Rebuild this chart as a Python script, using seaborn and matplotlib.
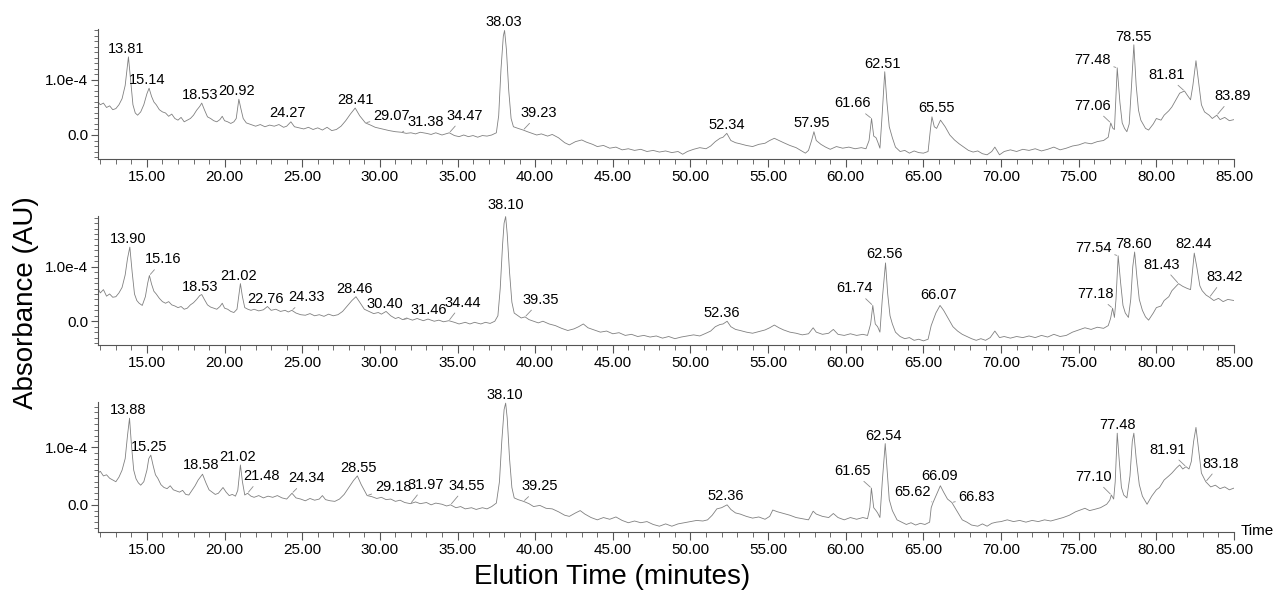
import numpy as np
import matplotlib
matplotlib.use("Agg")
import matplotlib.pyplot as plt
from matplotlib.ticker import MultipleLocator, FuncFormatter
import seaborn as sns

sns.set_style("ticks")
plt.rcParams["font.family"] = ["Liberation Sans", "DejaVu Sans"]
plt.rcParams["text.color"] = "black"

# ---- chromatogram traces: retention time (min) and absorbance (x1e-4 AU) ----
time_a = [11.85, 12.0, 12.2, 12.4, 12.6, 12.8, 13.0, 13.2, 13.4, 13.6, 13.81, 13.95, 14.1, 14.25, 14.4, 14.6, 14.8, 15.0,
          15.14, 15.3, 15.45, 15.6, 15.8, 16.0, 16.2, 16.4, 16.6, 16.8, 17.0, 17.2, 17.4, 17.6, 17.8, 18.0, 18.2, 18.4,
          18.53, 18.7, 18.9, 19.1, 19.3, 19.5, 19.7, 19.85, 20.0, 20.2, 20.4, 20.6, 20.75, 20.92, 21.05, 21.2, 21.4, 21.6,
          21.8, 22.0, 22.3, 22.6, 22.9, 23.2, 23.5, 23.8, 24.0, 24.27, 24.5, 24.8, 25.1, 25.4, 25.7, 26.0, 26.3, 26.6,
          26.9, 27.2, 27.5, 27.8, 28.1, 28.41, 28.7, 29.07, 29.4, 29.7, 30.0, 30.3, 30.6, 31.0, 31.38, 31.7, 32.0, 32.3,
          32.6, 33.0, 33.3, 33.6, 34.0, 34.47, 34.8, 35.1, 35.4, 35.7, 36.0, 36.3, 36.6, 36.9, 37.2, 37.5, 37.65, 37.8,
          37.95, 38.03, 38.15, 38.3, 38.45, 38.6, 38.9, 39.23, 39.5, 39.8, 40.1, 40.4, 40.8, 41.1, 41.5, 41.9, 42.2, 42.6,
          43.0, 43.3, 43.7, 44.0, 44.4, 44.8, 45.2, 45.6, 46.0, 46.4, 46.8, 47.2, 47.6, 48.0, 48.4, 48.8, 49.2, 49.5,
          49.8, 50.2, 50.6, 51.0, 51.3, 51.6, 51.9, 52.1, 52.34, 52.6, 52.9, 53.2, 53.6, 54.0, 54.4, 54.8, 55.1, 55.4,
          55.7, 56.0, 56.4, 56.8, 57.1, 57.4, 57.6, 57.8, 57.95, 58.1, 58.4, 58.7, 59.0, 59.4, 59.8, 60.2, 60.6, 61.0,
          61.3, 61.5, 61.66, 61.8, 61.95, 62.05, 62.2, 62.35, 62.51, 62.65, 62.8, 63.0, 63.2, 63.5, 63.8, 64.1, 64.4,
          64.7, 65.0, 65.3, 65.45, 65.55, 65.7, 65.85, 66.1, 66.4, 66.7, 67.0, 67.3, 67.6, 67.9, 68.2, 68.5, 68.8, 69.1,
          69.4, 69.6, 69.9, 70.2, 70.6, 71.0, 71.4, 71.8, 72.2, 72.6, 73.0, 73.4, 73.8, 74.2, 74.6, 75.0, 75.4, 75.8,
          76.2, 76.6, 76.9, 77.06, 77.2, 77.3, 77.48, 77.65, 77.8, 77.95, 78.1, 78.25, 78.4, 78.55, 78.7, 78.85, 79.0,
          79.3, 79.5, 79.8, 80.0, 80.3, 80.5, 80.8, 81.0, 81.3, 81.5, 81.81, 82.0, 82.2, 82.35, 82.55, 82.7, 82.9, 83.1,
          83.4, 83.6, 83.89, 84.1, 84.4, 84.7, 85.0]
absorb_a = [0.60, 0.55, 0.58, 0.50, 0.53, 0.46, 0.48, 0.55, 0.66, 0.90, 1.42, 1.00, 0.55, 0.40, 0.36, 0.42, 0.55, 0.75,
            0.85, 0.70, 0.60, 0.55, 0.46, 0.42, 0.40, 0.34, 0.38, 0.30, 0.27, 0.32, 0.24, 0.27, 0.30, 0.36, 0.45, 0.52,
            0.58, 0.46, 0.33, 0.30, 0.26, 0.24, 0.28, 0.34, 0.26, 0.24, 0.21, 0.24, 0.30, 0.65, 0.48, 0.30, 0.22, 0.20,
            0.18, 0.16, 0.19, 0.15, 0.18, 0.16, 0.19, 0.14, 0.16, 0.24, 0.15, 0.13, 0.11, 0.14, 0.10, 0.13, 0.09, 0.14,
            0.08, 0.10, 0.16, 0.26, 0.38, 0.49, 0.35, 0.22, 0.18, 0.14, 0.12, 0.10, 0.08, 0.06, 0.05, 0.03, 0.04, 0.02,
            0.05, 0.03, 0.01, 0.04, 0.00, 0.04, -0.01, -0.03, 0.00, -0.03, -0.01, -0.04, -0.01, -0.02, 0.00, 0.04, 0.35, 1.20,
            1.80, 1.90, 1.55, 0.80, 0.30, 0.15, 0.12, 0.09, 0.06, 0.03, 0.00, 0.02, -0.02, 0.01, -0.05, -0.14, -0.18, -0.12,
            -0.09, -0.13, -0.17, -0.21, -0.19, -0.24, -0.22, -0.27, -0.25, -0.28, -0.26, -0.30, -0.28, -0.31, -0.29, -0.32, -0.30, -0.35,
            -0.30, -0.26, -0.23, -0.25, -0.20, -0.12, -0.06, -0.04, 0.03, -0.10, -0.14, -0.16, -0.19, -0.21, -0.17, -0.15, -0.10, -0.06,
            -0.10, -0.14, -0.19, -0.23, -0.28, -0.33, -0.28, -0.10, 0.06, -0.10, -0.17, -0.22, -0.26, -0.21, -0.24, -0.22, -0.25, -0.23,
            -0.25, -0.10, 0.30, -0.02, -0.05, -0.12, -0.24, 0.40, 1.15, 0.60, 0.15, -0.05, -0.22, -0.30, -0.28, -0.33, -0.29,
            -0.32, -0.33, -0.30, 0.10, 0.33, 0.15, 0.12, 0.27, 0.15, 0.00, -0.09, -0.16, -0.22, -0.28, -0.31, -0.29, -0.34, -0.36,
            -0.30, -0.22, -0.36, -0.30, -0.27, -0.30, -0.26, -0.28, -0.25, -0.29, -0.26, -0.22, -0.27, -0.24, -0.20, -0.18, -0.14, -0.16,
            -0.12, -0.10, -0.04, 0.22, 0.12, 0.10, 1.22, 0.60, 0.22, 0.12, 0.06, 0.20, 0.90, 1.64, 0.90, 0.45, 0.27,
            0.12, 0.09, 0.20, 0.30, 0.27, 0.36, 0.44, 0.51, 0.66, 0.76, 0.80, 0.72, 0.64, 0.90, 1.35, 1.00, 0.55, 0.42,
            0.36, 0.30, 0.36, 0.28, 0.32, 0.26, 0.28]

time_b = [11.85, 12.0, 12.2, 12.4, 12.6, 12.8, 13.0, 13.2, 13.4, 13.6, 13.75, 13.90, 14.05, 14.2, 14.35, 14.5, 14.7, 14.9,
          15.05, 15.16, 15.3, 15.45, 15.6, 15.8, 16.0, 16.2, 16.4, 16.6, 16.8, 17.0, 17.2, 17.4, 17.6, 17.8, 18.0, 18.2,
          18.4, 18.53, 18.7, 18.9, 19.1, 19.3, 19.5, 19.7, 19.85, 20.0, 20.2, 20.4, 20.6, 20.8, 21.02, 21.15, 21.3, 21.5,
          21.7, 21.9, 22.2, 22.5, 22.76, 23.0, 23.3, 23.6, 23.9, 24.1, 24.33, 24.6, 24.9, 25.2, 25.5, 25.8, 26.1, 26.4,
          26.7, 27.0, 27.3, 27.6, 27.9, 28.2, 28.46, 28.7, 29.0, 29.3, 29.6, 29.9, 30.1, 30.40, 30.7, 31.0, 31.2, 31.46,
          31.8, 32.1, 32.4, 32.8, 33.1, 33.5, 33.8, 34.1, 34.44, 34.8, 35.1, 35.5, 35.8, 36.1, 36.5, 36.8, 37.1, 37.4,
          37.6, 37.75, 37.9, 38.0, 38.10, 38.2, 38.35, 38.5, 38.65, 38.9, 39.1, 39.35, 39.6, 39.9, 40.2, 40.5, 40.9, 41.3,
          41.7, 42.1, 42.5, 42.8, 43.1, 43.4, 43.8, 44.2, 44.6, 45.0, 45.4, 45.8, 46.2, 46.6, 47.0, 47.4, 47.8, 48.2,
          48.6, 49.0, 49.4, 49.8, 50.2, 50.6, 51.0, 51.3, 51.6, 51.9, 52.1, 52.36, 52.6, 52.9, 53.2, 53.6, 54.0, 54.4,
          54.8, 55.1, 55.4, 55.7, 56.0, 56.4, 56.8, 57.2, 57.6, 57.9, 58.1, 58.5, 58.9, 59.2, 59.5, 59.9, 60.3, 60.7,
          61.1, 61.4, 61.6, 61.74, 61.9, 62.05, 62.2, 62.35, 62.56, 62.7, 62.85, 63.0, 63.2, 63.5, 63.8, 64.1, 64.4,
          64.7, 65.0, 65.3, 65.5, 65.8, 66.07, 66.3, 66.6, 66.9, 67.2, 67.5, 67.8, 68.1, 68.4, 68.7, 69.0, 69.3, 69.6,
          69.9, 70.2, 70.6, 71.0, 71.4, 71.8, 72.2, 72.6, 73.0, 73.4, 73.8, 74.2, 74.6, 75.0, 75.4, 75.8, 76.2, 76.6,
          76.9, 77.05, 77.18, 77.3, 77.4, 77.54, 77.7, 77.85, 78.0, 78.2, 78.35, 78.48, 78.60, 78.75, 78.9, 79.1, 79.3,
          79.5, 79.8, 80.0, 80.3, 80.5, 80.8, 81.0, 81.2, 81.43, 81.7, 82.0, 82.2, 82.32, 82.44, 82.6, 82.8, 82.95, 83.2,
          83.42, 83.7, 84.0, 84.3, 84.6, 85.0]
absorb_b = [0.60, 0.52, 0.58, 0.46, 0.50, 0.44, 0.45, 0.52, 0.62, 0.85, 1.15, 1.36, 0.90, 0.50, 0.38, 0.33, 0.29, 0.45,
            0.70, 0.84, 0.68, 0.55, 0.50, 0.42, 0.36, 0.33, 0.36, 0.30, 0.28, 0.25, 0.27, 0.22, 0.24, 0.30, 0.34, 0.40,
            0.47, 0.49, 0.40, 0.30, 0.26, 0.24, 0.22, 0.27, 0.33, 0.24, 0.22, 0.18, 0.16, 0.22, 0.69, 0.45, 0.25, 0.22,
            0.20, 0.22, 0.19, 0.21, 0.27, 0.20, 0.22, 0.18, 0.20, 0.17, 0.20, 0.15, 0.12, 0.11, 0.14, 0.10, 0.12, 0.09,
            0.13, 0.10, 0.12, 0.18, 0.28, 0.38, 0.45, 0.35, 0.22, 0.18, 0.14, 0.16, 0.13, 0.18, 0.10, 0.05, 0.07, 0.03,
            0.05, 0.02, 0.05, 0.01, 0.04, 0.00, 0.02, -0.01, 0.01, -0.02, -0.05, -0.02, -0.05, -0.02, -0.05, -0.02, -0.04, 0.00,
            0.10, 0.60, 1.40, 1.80, 1.92, 1.60, 0.90, 0.35, 0.15, 0.10, 0.06, 0.08, 0.03, 0.00, -0.03, 0.00, -0.05, -0.08,
            -0.13, -0.17, -0.14, -0.10, -0.05, -0.12, -0.16, -0.20, -0.18, -0.23, -0.21, -0.26, -0.24, -0.28, -0.26, -0.29, -0.27, -0.31,
            -0.28, -0.32, -0.29, -0.27, -0.25, -0.27, -0.22, -0.18, -0.10, -0.06, -0.05, 0.00, -0.10, -0.15, -0.17, -0.20, -0.22, -0.19,
            -0.16, -0.12, -0.07, -0.12, -0.16, -0.20, -0.22, -0.25, -0.23, -0.12, -0.20, -0.24, -0.22, -0.15, -0.24, -0.26, -0.23, -0.26,
            -0.24, -0.26, -0.05, 0.29, -0.05, -0.10, -0.20, 0.40, 1.07, 0.50, 0.10, -0.05, -0.20, -0.28, -0.32, -0.30, -0.35,
            -0.33, -0.36, -0.33, -0.08, 0.15, 0.29, 0.20, 0.05, -0.10, -0.18, -0.24, -0.28, -0.32, -0.35, -0.32, -0.35, -0.30, -0.18,
            -0.30, -0.28, -0.31, -0.28, -0.30, -0.27, -0.30, -0.26, -0.29, -0.24, -0.28, -0.26, -0.20, -0.16, -0.12, -0.15, -0.11, -0.13,
            -0.08, 0.05, 0.24, 0.07, 0.40, 1.20, 0.70, 0.29, 0.15, 0.07, 0.40, 1.00, 1.27, 0.80, 0.40, 0.20, 0.08,
            0.02, 0.15, 0.25, 0.28, 0.38, 0.45, 0.56, 0.62, 0.69, 0.64, 0.60, 0.58, 0.90, 1.25, 1.00, 0.65, 0.56, 0.48,
            0.44, 0.38, 0.42, 0.36, 0.40, 0.38]

time_c = [11.85, 12.0, 12.2, 12.4, 12.6, 12.8, 13.0, 13.2, 13.4, 13.6, 13.75, 13.88, 14.0, 14.15, 14.3, 14.45, 14.6, 14.8,
          15.0, 15.12, 15.25, 15.4, 15.55, 15.7, 15.9, 16.1, 16.3, 16.5, 16.7, 16.9, 17.1, 17.3, 17.5, 17.7, 17.9, 18.1,
          18.3, 18.58, 18.8, 19.0, 19.2, 19.4, 19.6, 19.9, 20.1, 20.3, 20.5, 20.7, 20.85, 21.02, 21.15, 21.3, 21.48, 21.7,
          21.9, 22.2, 22.5, 22.8, 23.1, 23.4, 23.7, 24.0, 24.34, 24.6, 24.9, 25.2, 25.5, 25.8, 26.1, 26.3, 26.5, 26.8,
          27.1, 27.4, 27.7, 28.0, 28.3, 28.55, 28.8, 29.18, 29.5, 29.8, 30.1, 30.4, 30.7, 31.0, 31.3, 31.6, 31.97, 32.3,
          32.6, 33.0, 33.3, 33.6, 34.0, 34.3, 34.55, 34.9, 35.2, 35.5, 35.9, 36.2, 36.6, 36.9, 37.2, 37.5, 37.7, 37.85,
          38.0, 38.10, 38.2, 38.35, 38.5, 38.65, 38.9, 39.25, 39.6, 39.9, 40.3, 40.7, 41.1, 41.5, 41.9, 42.2, 42.6, 42.9,
          43.2, 43.6, 44.0, 44.4, 44.8, 45.2, 45.6, 46.0, 46.4, 46.8, 47.2, 47.6, 48.0, 48.4, 48.8, 49.2, 49.6, 50.0,
          50.4, 50.8, 51.1, 51.4, 51.7, 52.0, 52.36, 52.6, 52.9, 53.2, 53.6, 54.0, 54.4, 54.8, 55.1, 55.3, 55.6, 56.0,
          56.4, 56.8, 57.2, 57.6, 57.9, 58.1, 58.5, 58.9, 59.2, 59.5, 59.9, 60.3, 60.7, 61.1, 61.4, 61.55, 61.65, 61.8,
          61.95, 62.05, 62.2, 62.35, 62.54, 62.7, 62.8, 63.0, 63.3, 63.6, 63.9, 64.2, 64.5, 64.8, 65.1, 65.4, 65.5, 65.62,
          65.8, 66.09, 66.3, 66.55, 66.83, 67.1, 67.5, 67.8, 68.1, 68.5, 68.8, 69.1, 69.4, 69.7, 70.0, 70.4, 70.8, 71.2,
          71.6, 72.0, 72.4, 72.8, 73.2, 73.6, 74.0, 74.4, 74.8, 75.1, 75.4, 75.7, 76.0, 76.4, 76.8, 77.0, 77.10, 77.25,
          77.35, 77.48, 77.6, 77.75, 77.9, 78.1, 78.3, 78.45, 78.55, 78.7, 78.9, 79.1, 79.4, 79.7, 80.0, 80.2, 80.5, 80.8,
          81.0, 81.3, 81.5, 81.7, 81.91, 82.1, 82.25, 82.4, 82.55, 82.7, 82.9, 83.18, 83.5, 83.8, 84.1, 84.4, 84.7, 85.0]
absorb_c = [0.55, 0.58, 0.50, 0.52, 0.46, 0.43, 0.40, 0.48, 0.60, 0.80, 1.20, 1.50, 1.05, 0.60, 0.45, 0.38, 0.34, 0.40,
            0.60, 0.80, 0.86, 0.68, 0.52, 0.46, 0.35, 0.30, 0.28, 0.33, 0.26, 0.24, 0.22, 0.25, 0.18, 0.17, 0.25, 0.33,
            0.43, 0.53, 0.38, 0.26, 0.22, 0.18, 0.20, 0.30, 0.22, 0.16, 0.18, 0.15, 0.25, 0.69, 0.40, 0.17, 0.20, 0.15,
            0.13, 0.16, 0.12, 0.15, 0.13, 0.16, 0.12, 0.10, 0.20, 0.12, 0.10, 0.07, 0.11, 0.08, 0.10, 0.16, 0.09, 0.07,
            0.06, 0.10, 0.18, 0.30, 0.42, 0.50, 0.35, 0.16, 0.14, 0.11, 0.13, 0.09, 0.10, 0.06, 0.08, 0.04, 0.02, 0.05,
            0.02, 0.04, 0.00, 0.03, 0.01, -0.02, 0.00, -0.05, -0.03, -0.07, -0.05, -0.08, -0.05, -0.07, -0.03, 0.03, 0.40, 1.10,
            1.65, 1.76, 1.50, 0.80, 0.30, 0.12, 0.09, 0.06, 0.02, -0.03, -0.01, -0.06, -0.07, -0.12, -0.18, -0.20, -0.14, -0.10,
            -0.16, -0.22, -0.26, -0.22, -0.25, -0.21, -0.27, -0.31, -0.28, -0.31, -0.29, -0.34, -0.37, -0.33, -0.37, -0.33, -0.31, -0.29,
            -0.27, -0.28, -0.26, -0.18, -0.07, -0.05, 0.00, -0.08, -0.14, -0.16, -0.20, -0.23, -0.21, -0.25, -0.20, -0.09, -0.12, -0.15,
            -0.18, -0.22, -0.24, -0.26, -0.11, -0.16, -0.20, -0.22, -0.15, -0.22, -0.26, -0.22, -0.25, -0.22, -0.24, -0.05, 0.29, -0.05,
            -0.10, -0.14, -0.22, 0.40, 1.06, 0.45, 0.09, -0.10, -0.26, -0.30, -0.34, -0.31, -0.35, -0.32, -0.34, -0.30, -0.05, 0.04,
            0.15, 0.33, 0.22, 0.10, 0.04, -0.08, -0.26, -0.30, -0.35, -0.37, -0.33, -0.37, -0.32, -0.30, -0.29, -0.26, -0.29, -0.27,
            -0.30, -0.27, -0.29, -0.26, -0.28, -0.25, -0.22, -0.18, -0.12, -0.09, -0.06, -0.10, -0.08, -0.05, 0.01, 0.08, 0.17, 0.10,
            0.40, 1.24, 0.80, 0.30, 0.17, 0.12, 0.50, 1.10, 1.24, 0.80, 0.35, 0.15, 0.01, 0.15, 0.26, 0.30, 0.43, 0.50,
            0.55, 0.64, 0.69, 0.62, 0.66, 0.62, 0.75, 1.10, 1.34, 1.00, 0.55, 0.40, 0.31, 0.34, 0.28, 0.31, 0.26, 0.29]

# ---- labelled retention times for each run ----
peaks_a = [13.81, 15.14, 18.53, 20.92, 24.27, 28.41, 29.07, 31.38, 34.47, 38.03, 39.23, 52.34, 57.95,
           61.66, 62.51, 65.55, 77.06, 77.48, 78.55, 81.81, 83.89]
peaks_b = [13.90, 15.16, 18.53, 21.02, 22.76, 24.33, 28.46, 30.40, 31.46, 34.44, 38.10, 39.35, 52.36,
           61.74, 62.56, 66.07, 77.18, 77.54, 78.60, 81.43, 82.44, 83.42]
peaks_c = [13.88, 15.25, 18.58, 21.02, 21.48, 24.34, 28.55, 29.18, 31.97, 34.55, 38.10, 39.25, 52.36,
           61.65, 62.54, 65.62, 66.09, 66.83, 77.10, 77.48, 81.91, 83.18]

# label centre offsets from the apex in pixels (dx, dy) and whether a leader line is drawn
offs_a = [(-2, 8, 0), (-2, 8, 0), (-2, 8, 0), (-2, 8, 0), (-3, 9, 0), (0, 8, 0), (26, 7, 1), (24, 10, 1), (15, 17, 1),
          (-1, 8, 0), (16, 17, 1), (0, 8, 0), (-2, 9, 0), (-19, 15, 1), (-2, 8, 0), (5, 9, 0), (-18, 17, 1),
          (-25, 8, 1), (0, 8, 0), (-18, 16, 1), (16, 19, 1)]
offs_b = [(-2, 8, 0), (14, 16, 1), (-2, 8, 0), (-2, 8, 0), (-2, 8, 0), (15, 13, 1), (-1, 8, 0), (-1, 7, 0),
          (26, 10, 1), (14, 18, 1), (0, 12, 0), (16, 17, 1), (-5, 8, 0), (-18, 17, 1), (-1, 9, 0), (-1, 10, 0),
          (-17, 14, 1), (-25, 8, 1), (-1, 8, 0), (-17, 19, 1), (-1, 9, 0), (15, 20, 1)]
offs_c = [(-1, 8, 0), (-2, 8, 0), (-1, 9, 0), (-3, 8, 0), (14, 17, 1), (15, 15, 1), (1, 8, 0), (26, 9, 1),
          (15, 19, 1), (16, 19, 1), (-1, 8, 0), (16, 15, 1), (-1, 9, 0), (-19, 17, 1), (-2, 8, 0), (-21, 11, 1),
          (-1, 10, 0), (25, 6, 1), (-18, 18, 1), (0, 8, 0), (-18, 17, 1), (15, 18, 1)]

runs = [
    (time_a, absorb_a, peaks_a, offs_a, (-0.436, 1.927), [0.0768, 0.7319, 0.8903, 0.2192]),
    (time_b, absorb_b, peaks_b, offs_b, (-0.436, 1.93), [0.0768, 0.4182, 0.8903, 0.2175]),
    (time_c, absorb_c, peaks_c, offs_c, (-0.47, 1.78), [0.0768, 0.1029, 0.8903, 0.2192]),
]

TRACE = "#808080"
AXIS = "#555555"
SCALE = 1e-4

fig = plt.figure(figsize=(12.76, 5.93), dpi=100)


def fmt_y(v, _pos):
    if abs(v) < 1e-12:
        return "0.0"
    return f"{v / SCALE:.1f}e-4"


for t, a, peaks, offs, ylim, rect in runs:
    ax = fig.add_axes(rect)
    t = np.asarray(t)
    a = np.asarray(a) * SCALE
    sns.lineplot(x=t, y=a, ax=ax, color=TRACE, linewidth=0.6, estimator=None, sort=False)
    ax.set_xlim(11.85, 85.0)
    ax.set_ylim(ylim[0] * SCALE, ylim[1] * SCALE)
    sns.despine(ax=ax)
    for side in ("left", "bottom"):
        ax.spines[side].set_color(AXIS)
        ax.spines[side].set_linewidth(0.8)
    ax.xaxis.set_major_locator(MultipleLocator(5))
    ax.xaxis.set_minor_locator(MultipleLocator(1))
    ax.xaxis.set_major_formatter(FuncFormatter(lambda v, p: f"{v:.2f}"))
    ax.yaxis.set_major_locator(MultipleLocator(SCALE))
    ax.yaxis.set_minor_locator(MultipleLocator(SCALE / 10))
    ax.yaxis.set_major_formatter(FuncFormatter(fmt_y))
    ax.tick_params(axis="x", which="major", length=6, width=0.8, color=AXIS, labelsize=11,
                   labelcolor="black", pad=2)
    ax.tick_params(axis="x", which="minor", length=3.5, width=0.6, color=AXIS)
    ax.tick_params(axis="y", which="major", length=5, width=0.8, color=AXIS, labelsize=11,
                   labelcolor="black", pad=2)
    ax.tick_params(axis="y", which="minor", length=3, width=0.6, color=AXIS)
    ax.set_xlabel("")
    ax.set_ylabel("")

    for rt, (dx, dy, lead) in zip(peaks, offs):
        apex = np.interp(rt, t, a)
        arrow = dict(arrowstyle="-", color="#8a8a8a", lw=0.6, shrinkA=0, shrinkB=1) if lead else None
        ax.annotate(f"{rt:.2f}", xy=(rt, apex), xytext=(dx, dy), textcoords="offset pixels",
                    ha="center", va="center", fontsize=10.5, color="black",
                    arrowprops=arrow, annotation_clip=False)
    last_ax = ax

last_ax.text(1.006, 0.01, "Time", transform=last_ax.transAxes, ha="left", va="center", fontsize=11)

fig.text(0.48, 0.027, "Elution Time (minutes)", ha="center", va="center", fontsize=20)
fig.text(0.02, 0.49, "Absorbance (AU)", ha="center", va="center", rotation=90, fontsize=20)

fig.savefig("out.png", dpi=100, facecolor="white")
